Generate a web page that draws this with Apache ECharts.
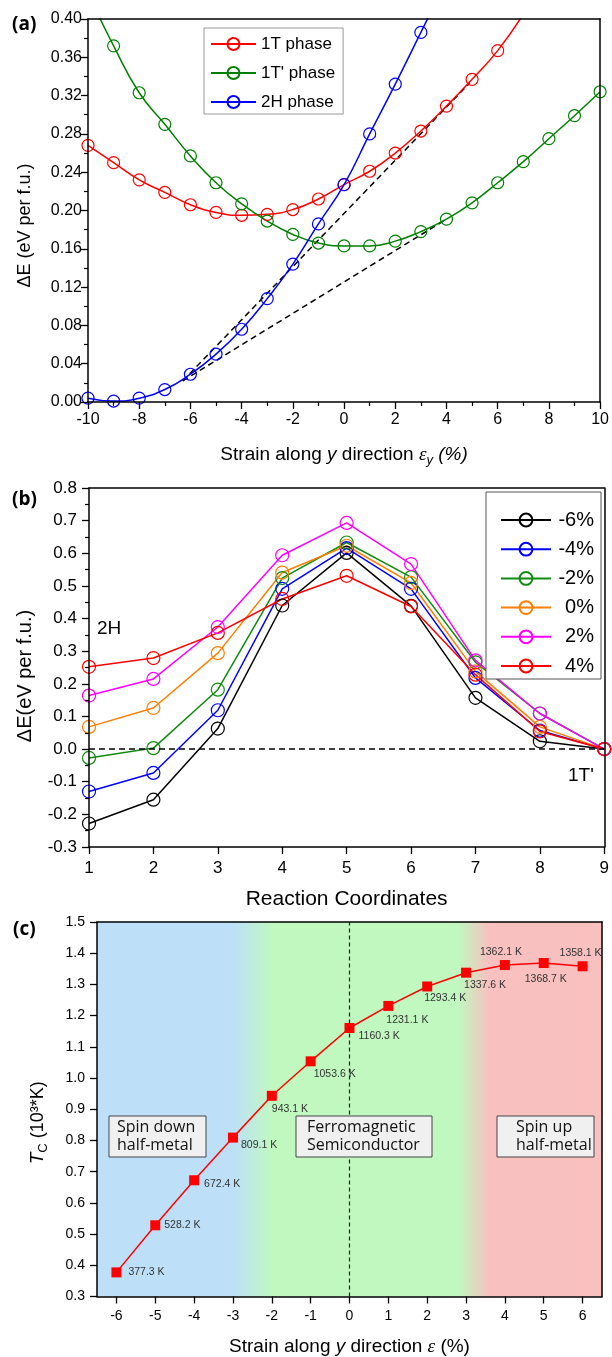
<!DOCTYPE html>
<html><head><meta charset="utf-8">
<script src="https://cdn.jsdelivr.net/npm/echarts@6/dist/echarts.min.js"></script>
<style>html,body{margin:0;padding:0;background:#fff}#c{width:612px;height:1357px}</style>
</head><body><div id="c"></div>
<script>
// ---------- Panel (a) data ----------
const strainA = [-10,-9,-8,-7,-6,-5,-4,-3,-2,-1,0,1,2,3,4,5,6,7,8,9,10];
const dE_1T  = [0.268,0.250,0.232,0.219,0.206,0.198,0.195,0.196,0.201,0.212,0.227,0.241,0.260,0.283,0.309,0.337,0.367,0.405,null,null,null];
const dE_1Tp = [0.427,0.372,0.323,0.290,0.257,0.229,0.207,0.189,0.175,0.166,0.163,0.163,0.168,0.178,0.191,0.208,0.229,0.251,0.275,0.299,0.324];
const dE_2H  = [0.004,0.001,0.004,0.013,0.029,0.050,0.076,0.108,0.144,0.186,0.227,0.280,0.332,0.386,0.440,null,null,null,null,null,null];
const tangentUpper = [[-6.3,0.022],[4.9,0.333]];
const tangentLower = [[-6.3,0.022],[4.0,0.191]];
const legendA = ['1T phase',"1T' phase",'2H phase'];

// ---------- Panel (b) data ----------
const reactionCoord = [1,2,3,4,5,6,7,8,9];
const pathNames = ['-6%','-4%','-2%','0%','2%','4%'];
const path_m6 = [-0.228,-0.155,0.063,0.440,0.601,0.439,0.157,0.024,0];
const path_m4 = [-0.130,-0.073,0.119,0.491,0.616,0.491,0.218,0.057,0];
const path_m2 = [-0.027,0.003,0.182,0.524,0.633,0.527,0.266,0.109,0];
const path_0  = [0.068,0.126,0.294,0.541,0.623,0.509,0.238,0.068,0];
const path_p2 = [0.164,0.215,0.374,0.594,0.693,0.567,0.272,0.109,0];
const path_p4 = [0.252,0.279,0.356,0.460,0.531,0.437,0.228,0.054,0];

// ---------- Panel (c) data ----------
const strainC = [-6,-5,-4,-3,-2,-1,0,1,2,3,4,5,6];
const tcK = [377.3,528.2,672.4,809.1,943.1,1053.6,1160.3,1231.1,1293.4,1337.6,1362.1,1368.7,1358.1];
const ticksC = [-6,-5,-4,-3,-2,-1,0,1,2,3,4,5,6];

// label placement (style only): [dx, dy] from point centre to label left/middle
const labelOffsetC = [[12,0],[9,0],[10,4],[8,7],[0,13],[3,13],[9,8],[-2,14],[-3,12],[-2,12],[-25,-13],[-19,16],[-23,-13]];

const FONT = 'Liberation Sans, Arial, sans-serif';
const K = '#000';

function zip(xs, ys){ const out=[]; xs.forEach((x,i)=>{ if(ys[i]!==null && ys[i]!==undefined) out.push([x, ys[i]]); }); return out; }

function frameAxis(type, gridIndex, min, max, pos){
  return {type:'value', gridIndex, min, max, position: pos, z: 10,
    axisLine:{show:true, onZero:false, lineStyle:{color:K, width:1.5}},
    axisTick:{show:false}, axisLabel:{show:false}, splitLine:{show:false}};
}
function mainAxis(o){
  const a = {type:'value', gridIndex:o.g, min:o.min, max:o.max, z:10,
    axisLine:{show:true, onZero:false, lineStyle:{color:K, width:1.5}},
    axisTick:{show:true, length:7, lineStyle:{color:K, width:1.3}},
    minorTick:{show:!!o.minor, splitNumber:2, length:4, lineStyle:{color:K, width:1.2}},
    splitLine:{show:false}, minorSplitLine:{show:false},
    axisLabel:{color:K, fontSize:o.fs, fontFamily:FONT, margin:o.margin, formatter:o.fmt},
    name:o.name, nameLocation:'middle', nameGap:o.nameGap, nameTextStyle:o.nts};
  if (o.interval !== undefined) a.interval = o.interval;
  if (o.position) a.position = o.position;
  if (o.rot) a.nameRotate = o.rot;
  if (o.custom){ a.axisLabel.customValues = o.custom; a.axisTick.customValues = o.custom; }
  return a;
}

const colorsB = ['#000000','#0000ff','#108a10','#ff7f00','#ff00ff','#ff0000'];
const pathsB = [path_m6,path_m4,path_m2,path_0,path_p2,path_p4];

const seriesA = [
  {name:'1T phase', color:'#ff0000', data:dE_1T},
  {name:"1T' phase", color:'#008000', data:dE_1Tp},
  {name:'2H phase', color:'#0000ff', data:dE_2H}
].map(s => ({name:s.name, type:'line', xAxisIndex:0, yAxisIndex:0, data:zip(strainA, s.data),
  smooth:true, clip:true, symbol:'circle', symbolSize:12, z:3,
  lineStyle:{color:s.color, width:1.5},
  itemStyle:{color:'rgba(255,255,255,0)', borderColor:s.color, borderWidth:1.2}}));

const dashed = [tangentUpper, tangentLower].map(d => ({type:'line', xAxisIndex:0, yAxisIndex:0, data:d,
  symbol:'none', silent:true, z:2, lineStyle:{color:K, width:1.5, type:[6,4]}}));

const seriesB = pathNames.map((n,i) => ({name:n, type:'line', xAxisIndex:2, yAxisIndex:2,
  data: zip(reactionCoord, pathsB[i]), symbol:'circle', symbolSize:13, z:3,
  lineStyle:{color:colorsB[i], width:1.5},
  itemStyle:{color:'rgba(255,255,255,0)', borderColor:colorsB[i], borderWidth:1.2},
  markLine: i===0 ? {silent:true, symbol:['none','none'], label:{show:false},
     lineStyle:{color:K, width:1.5, type:[6,4]}, data:[{yAxis:0}]} : undefined
}));

const grad = new echarts.graphic.LinearGradient(0,0,1,0,[
  {offset:0, color:'#bde0f8'},
  {offset:(-3+6.5)/13, color:'#bde0f8'},
  {offset:(-2+6.5)/13, color:'#c0f8c0'},
  {offset:(2.8+6.5)/13, color:'#c0f8c0'},
  {offset:(3.6+6.5)/13, color:'#f9c0c0'},
  {offset:1, color:'#f9c0c0'}
]);

const seriesC = {type:'line', xAxisIndex:4, yAxisIndex:4, z:3,
  data: strainC.map((x,i)=>({value:[x, tcK[i]/1000],
     label:{offset:labelOffsetC[i]}})),
  symbol:'rect', symbolSize:10,
  lineStyle:{color:'#ff0000', width:1.5}, itemStyle:{color:'#ff0000'},
  label:{show:true, position:'inside', align:'left', verticalAlign:'middle',
     fontSize:10.5, fontFamily:FONT, color:'#333',
     formatter:p => tcK[p.dataIndex].toFixed(1)+' K'},
  markArea:{silent:true, z:1, itemStyle:{color:grad, opacity:1},
     data:[[{coord:[-6.5,0.3]},{coord:[6.5,1.5]}]]},
  markLine:{silent:true, symbol:['none','none'], label:{show:false},
     lineStyle:{color:'#222', width:1.2, type:[4,3]}, data:[{xAxis:0}]}
};

const txt = (fs, extra) => Object.assign({fontSize:fs, fontFamily:FONT, color:K}, extra||{});

const option = {
  backgroundColor:'#fff',
  animation:false,
  grid:[
    {left:88, top:19, width:515, height:383},
    {left:89, top:488, width:517.5, height:359},
    {left:97, top:922, width:505, height:375}
  ],
  legend:[
    {data:legendA, orient:'vertical', left:204, top:28, itemWidth:45, itemHeight:15, itemGap:12,
     padding:[7.5,8,3.5,6], borderColor:'#999', borderWidth:1, backgroundColor:'#fff',
     textStyle:txt(17), selectedMode:false},
    {data:pathNames, orient:'vertical', left:486, top:492, itemWidth:50, itemHeight:16, itemGap:9.2,
     padding:[18,7,3,14], borderColor:'#555', borderWidth:1, backgroundColor:'#fff',
     formatter:'{a|{name}}',
     textStyle:txt(20,{rich:{a:{width:38, align:'right', fontSize:20, fontFamily:FONT, color:K}}}),
     selectedMode:false}
  ],
  xAxis:[
    mainAxis({g:0, min:-10, max:10, interval:2, minor:true, fs:16, margin:10,
      name:'{r|Strain along }{i|y}{r| direction }{e|ε}{s|y}{i| (%)}', nameGap:41,
      nts: txt(19,{rich:{r:txt(19,{lineHeight:24}), i:txt(19,{fontStyle:'italic',lineHeight:24}),
        e:txt(19,{fontStyle:'italic', fontFamily:'Liberation Serif', lineHeight:24}),
        s:txt(13,{fontStyle:'italic', lineHeight:14, verticalAlign:'bottom'})}})}),
    frameAxis('x',0,-10,10,'top'),
    mainAxis({g:1, min:1, max:9, interval:1, minor:false, fs:17, margin:13,
      name:'Reaction Coordinates', nameGap:42, nts:txt(21)}),
    frameAxis('x',1,1,9,'top'),
    mainAxis({g:2, min:-6.5, max:6.5, minor:false, fs:14, margin:13, custom:ticksC,
      name:'{r|Strain along }{i|y}{r| direction }{e|ε}{r| (%)}', nameGap:38,
      nts: txt(19,{rich:{r:txt(19,{lineHeight:24}), i:txt(19,{fontStyle:'italic',lineHeight:24}),
        e:txt(19,{fontStyle:'italic', fontFamily:'Liberation Serif', lineHeight:24})}})}),
    frameAxis('x',2,-6.5,6.5,'top')
  ],
  yAxis:[
    mainAxis({g:0, min:0, max:0.4, interval:0.04, minor:true, fs:16, margin:6,
      fmt:v=>v.toFixed(2), name:'ΔE (eV per f.u.)', nameGap:54, rot:90,
      nts:txt(18,{padding:[0,30,0,0]})}),
    frameAxis('y',0,0,0.4,'right'),
    mainAxis({g:1, min:-0.3, max:0.8, interval:0.1, minor:true, fs:17, margin:12,
      fmt:v=>v.toFixed(1), name:'ΔE(eV per f.u.)', nameGap:54, rot:90,
      nts:txt(20,{padding:[0,17,0,0]})}),
    frameAxis('y',1,-0.3,0.8,'right'),
    mainAxis({g:2, min:0.3, max:1.5, interval:0.1, minor:false, fs:14, margin:12,
      fmt:v=>v.toFixed(1), name:'{t|T}{s|C}{r| (10³*K)}', nameGap:47, rot:90,
      nts:txt(18,{padding:[0,27,0,0], rich:{t:txt(19,{fontStyle:'italic',lineHeight:24}),
        s:txt(13,{lineHeight:14, verticalAlign:'bottom'}), r:txt(18,{lineHeight:24})}})}),
    frameAxis('y',2,0.3,1.5,'right')
  ],
  series:[...dashed, ...seriesA, ...seriesB, seriesC],
  graphic:[
    {type:'text', x:12, y:25, z:30, style:{text:'(a)', fontSize:19, fontWeight:'bold', fontFamily:'Open Sans', fill:K, align:'left', verticalAlign:'middle'}},
    {type:'text', x:12, y:500, z:30, style:{text:'(b)', fontSize:19, fontWeight:'bold', fontFamily:'Open Sans', fill:K, align:'left', verticalAlign:'middle'}},
    {type:'text', x:13, y:930, z:30, style:{text:'(c)', fontSize:19, fontWeight:'bold', fontFamily:'Open Sans', fill:K, align:'left', verticalAlign:'middle'}},
    {type:'text', x:97, y:629, z:30, style:{text:'2H', fontSize:19, fontFamily:FONT, fill:K, align:'left', verticalAlign:'middle'}},
    {type:'text', x:568, y:776, z:30, style:{text:"1T'", fontSize:19, fontFamily:FONT, fill:K, align:'left', verticalAlign:'middle'}},
    {type:'rect', z:30, shape:{x:109, y:1116, width:97, height:41}, style:{fill:'#f0f0f0', stroke:'#444', lineWidth:1}},
    {type:'text', x:117, y:1136.5, z:31, style:{text:'Spin down\nhalf-metal', fontSize:16, lineHeight:17.5, fontFamily:'Open Sans', fill:'#111', align:'left', verticalAlign:'middle'}},
    {type:'rect', z:30, shape:{x:296, y:1116, width:136, height:41}, style:{fill:'#f0f0f0', stroke:'#444', lineWidth:1}},
    {type:'text', x:307, y:1136.5, z:31, style:{text:'Ferromagnetic\nSemiconductor', fontSize:16, lineHeight:17.5, fontFamily:'Open Sans', fill:'#111', align:'left', verticalAlign:'middle'}},
    {type:'rect', z:30, shape:{x:497, y:1116, width:97, height:41}, style:{fill:'#f0f0f0', stroke:'#444', lineWidth:1}},
    {type:'text', x:516, y:1136.5, z:31, style:{text:'Spin up\nhalf-metal', fontSize:16, lineHeight:17.5, fontFamily:'Open Sans', fill:'#111', align:'left', verticalAlign:'middle'}}
  ]
};

const chart = echarts.init(document.getElementById('c'), null, {renderer:'canvas', width:612, height:1357});
chart.setOption(option);
</script>
</body></html>
